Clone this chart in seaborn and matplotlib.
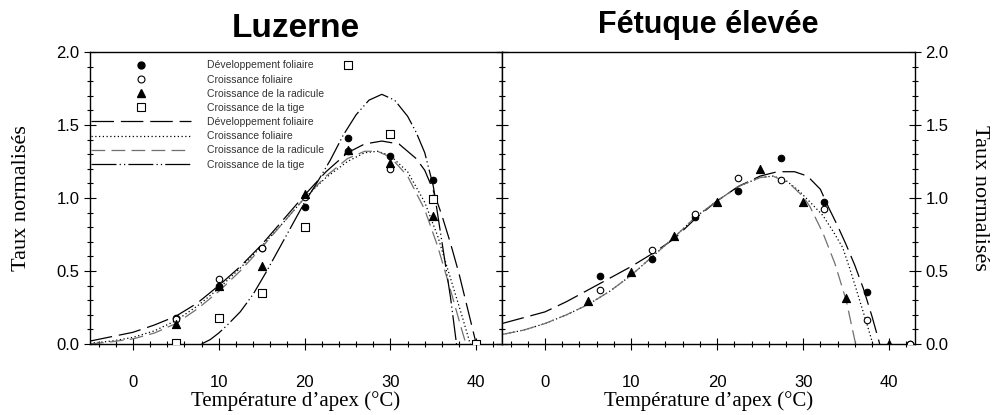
import numpy as np
import pandas as pd
import matplotlib
matplotlib.use('Agg')
import matplotlib.pyplot as plt
from matplotlib.lines import Line2D
from matplotlib.ticker import MultipleLocator, FormatStrFormatter
import seaborn as sns

# ---- Luzerne: mesures ----
luz_T = [5, 10, 15, 20, 25, 30, 35, 40]
luz_dev = [0.18, 0.40, 0.655, 0.94, 1.41, 1.29, 1.12, 0.0]
luz_fol = [0.17, 0.445, 0.66, 1.01, 1.32, 1.20, 1.00, 0.0]
luz_rad = [0.135, 0.40, 0.535, 1.03, 1.33, 1.24, 0.88, 0.0]
luz_tig = [0.01, 0.175, 0.35, 0.80, 1.91, 1.44, 0.99, 0.0]

# ---- Luzerne: courbes ajustées ----
luz_dev_cT = [-5, -2.5, 0, 2.5, 5, 7.5, 10, 12.5, 15, 17.5, 20, 22.5, 25, 27, 29, 31, 33, 34, 35, 36, 37, 38, 39, 40]
luz_dev_c = [0.02, 0.05, 0.08, 0.13, 0.19, 0.28, 0.40, 0.53, 0.68, 0.85, 1.02, 1.18, 1.31, 1.37, 1.39, 1.37, 1.27, 1.19, 1.05, 0.88, 0.69, 0.48, 0.24, 0.0]
luz_fol_cT = [-5, -2.5, 0, 2.5, 5, 7.5, 10, 12.5, 15, 17.5, 20, 22.5, 25, 27, 28.5, 30, 32, 34, 35.5, 37, 38.3, 39.3]
luz_fol_c = [0.005, 0.02, 0.045, 0.09, 0.16, 0.26, 0.38, 0.52, 0.67, 0.83, 1.00, 1.14, 1.25, 1.31, 1.32, 1.29, 1.18, 0.97, 0.74, 0.45, 0.20, 0.0]
luz_rad_cT = [-5, -2.5, 0, 2.5, 5, 7.5, 10, 12.5, 15, 17.5, 20, 22.5, 25, 27, 28.5, 30, 32, 34, 35.5, 37, 38.2, 38.8]
luz_rad_c = [0.0, 0.015, 0.035, 0.075, 0.14, 0.24, 0.36, 0.50, 0.66, 0.83, 1.00, 1.15, 1.27, 1.32, 1.32, 1.28, 1.15, 0.92, 0.67, 0.37, 0.12, 0.0]
luz_tig_cT = [8, 9, 10, 11, 12.5, 14, 15.5, 17, 18.5, 20, 21.5, 23, 24.5, 26, 27.5, 29, 30.5, 32, 33, 34, 35, 36, 37, 37.7]
luz_tig_c = [0.0, 0.03, 0.075, 0.13, 0.22, 0.34, 0.49, 0.65, 0.81, 0.97, 1.11, 1.26, 1.43, 1.57, 1.67, 1.71, 1.67, 1.56, 1.45, 1.31, 1.08, 0.70, 0.32, 0.0]

# ---- Fétuque élevée: mesures ----
fet_T_fol = [6.4, 12.4, 17.4, 22.4, 27.4, 32.4, 37.4, 42.4]
fet_dev = [0.468, 0.58, 0.868, 1.046, 1.274, 0.975, 0.358, 0.0]
fet_fol = [0.37, 0.644, 0.888, 1.135, 1.12, 0.925, 0.164, 0.0]
fet_T_rad = [5, 10, 15, 20, 25, 30, 35, 40]
fet_rad = [0.295, 0.49, 0.738, 0.97, 1.20, 0.97, 0.313, 0.0]

# ---- Fétuque élevée: courbes ----
fet_dev_cT = [-5, -2.5, 0, 2.5, 5, 7.5, 10, 12.5, 15, 17.5, 20, 22.5, 25, 27, 29, 30.5, 32, 33, 34, 35, 36, 37, 38, 38.9]
fet_dev_c = [0.14, 0.18, 0.22, 0.29, 0.37, 0.45, 0.53, 0.62, 0.72, 0.86, 0.98, 1.08, 1.15, 1.18, 1.18, 1.15, 1.06, 0.93, 0.81, 0.68, 0.54, 0.38, 0.19, 0.0]
fet_fol_cT = [-5, -2.5, 0, 2.5, 5, 7.5, 10, 12.5, 15, 17.5, 20, 22.5, 25, 26.5, 28, 29.5, 31, 32.3, 33.5, 34.6, 35.4, 36.2, 37.4, 38.1]
fet_fol_c = [0.065, 0.095, 0.14, 0.20, 0.27, 0.36, 0.47, 0.60, 0.73, 0.87, 0.98, 1.08, 1.14, 1.15, 1.12, 1.05, 0.96, 0.88, 0.77, 0.66, 0.52, 0.37, 0.14, 0.0]
fet_rad_cT = [-5, -2.5, 0, 2.5, 5, 7.5, 10, 12.5, 15, 17.5, 20, 22.5, 25, 26.5, 28.4, 30, 30.8, 32.3, 33.7, 35, 36.1]
fet_rad_c = [0.065, 0.095, 0.14, 0.20, 0.27, 0.36, 0.47, 0.60, 0.73, 0.87, 0.98, 1.08, 1.14, 1.15, 1.10, 1.01, 0.94, 0.76, 0.55, 0.30, 0.0]

labels = ['Développement foliaire', 'Croissance foliaire',
          'Croissance de la radicule', 'Croissance de la tige']

sns.set_style('ticks')
plt.rcParams['font.family'] = ['Liberation Sans', 'DejaVu Sans']
for k in ['text.color', 'axes.labelcolor', 'xtick.color', 'ytick.color', 'axes.edgecolor']:
    plt.rcParams[k] = 'black'

GRAY = '#707070'
LW = 0.9
ls_dev = (0, (18, 5.5))
ls_fol = (0, (1, 2))
ls_rad = (0, (11, 5))
ls_tig = (0, (20, 2.5, 1, 2.5, 1, 2.5))

fig = plt.figure(figsize=(9.99, 4.15), dpi=100)
ax1 = fig.add_axes([0.0901, 0.1711, 0.4124, 0.7036])
ax2 = fig.add_axes([0.5025, 0.1711, 0.4134, 0.7036])


def curve(ax, x, y, ls, color='k'):
    sns.lineplot(x=x, y=y, ax=ax, color=color, lw=LW, ls=ls,
                 sort=False, estimator=None, zorder=2)


def points(ax, x, y, marker, filled, s):
    sns.scatterplot(x=x, y=y, ax=ax, marker=marker, s=s,
                    color='k' if filled else 'white', edgecolor='k',
                    linewidth=0.8, zorder=3)


# Luzerne
curve(ax1, luz_dev_cT, luz_dev_c, ls_dev)
curve(ax1, luz_fol_cT, luz_fol_c, ls_fol)
curve(ax1, luz_rad_cT, luz_rad_c, ls_rad, GRAY)
curve(ax1, luz_tig_cT, luz_tig_c, ls_tig)
points(ax1, luz_T, luz_dev, 'o', True, 22)
points(ax1, luz_T, luz_fol, 'o', False, 22)
points(ax1, luz_T, luz_rad, '^', True, 34)
points(ax1, luz_T, luz_tig, 's', False, 34)

# Fétuque
curve(ax2, fet_dev_cT, fet_dev_c, ls_dev)
curve(ax2, fet_fol_cT, fet_fol_c, ls_fol)
curve(ax2, fet_rad_cT, fet_rad_c, ls_rad, GRAY)
points(ax2, fet_T_fol, fet_dev, 'o', True, 22)
points(ax2, fet_T_fol, fet_fol, 'o', False, 22)
points(ax2, fet_T_rad, fet_rad, '^', True, 34)

serif = ['Liberation Serif', 'DejaVu Serif']
for ax, title, tsize, tpad in [(ax1, 'Luzerne', 24, 11), (ax2, 'Fétuque élevée', 22, 14)]:
    ax.set_xlim(-5, 43)
    ax.set_ylim(0, 2.0)
    ax.xaxis.set_major_locator(MultipleLocator(10))
    ax.xaxis.set_minor_locator(MultipleLocator(2))
    ax.yaxis.set_major_locator(MultipleLocator(0.5))
    ax.yaxis.set_minor_locator(MultipleLocator(0.1))
    ax.yaxis.set_major_formatter(FormatStrFormatter('%.1f'))
    ax.tick_params(which='major', direction='inout', length=8, width=0.8,
                   labelsize=12, top=False, right=True, left=True)
    ax.tick_params(which='minor', direction='inout', length=4, width=0.8,
                   top=False, right=True, left=True)
    ax.tick_params(axis='x', which='major', pad=18)
    for sp in ax.spines.values():
        sp.set_visible(True)
        sp.set_linewidth(1.0)
        sp.set_color('k')
    ax.set_xlabel('Température d\u2019apex (°C)', family=serif, fontsize=15, labelpad=1)
    ax.set_title(title, fontsize=tsize, fontweight='bold', pad=tpad)

ax1.set_ylabel('Taux normalisés', family=serif, fontsize=16, labelpad=18)
ax1.tick_params(axis='y', which='both', labelleft=True, labelright=False)
ax2.tick_params(axis='y', which='both', labelleft=False, labelright=True)
ax2.yaxis.set_label_position('right')
ax2.set_ylabel('Taux normalisés', family=serif, fontsize=16, rotation=270, labelpad=29)

handles = [
    Line2D([], [], ls='none', marker='o', ms=5, mfc='k', mec='k'),
    Line2D([], [], ls='none', marker='o', ms=5, mfc='white', mec='k', mew=0.8),
    Line2D([], [], ls='none', marker='^', ms=6, mfc='k', mec='k'),
    Line2D([], [], ls='none', marker='s', ms=6, mfc='white', mec='k', mew=0.8),
    Line2D([], [], color='k', lw=LW, ls=ls_dev),
    Line2D([], [], color='k', lw=LW, ls=ls_fol),
    Line2D([], [], color=GRAY, lw=LW, ls=ls_rad),
    Line2D([], [], color='k', lw=LW, ls=ls_tig),
]
leg = ax1.legend(handles, labels + labels, loc='upper left', bbox_to_anchor=(0.0, 0.975),
                 frameon=False, numpoints=1, handlelength=9.6,
                 handletextpad=1.5, labelspacing=0.4, borderpad=0.1, borderaxespad=0.0,
                 prop={'family': ['Liberation Sans', 'DejaVu Sans'], 'size': 7.5})
for t in leg.get_texts():
    t.set_color('#333333')

fig.savefig('out.png', dpi=100)
